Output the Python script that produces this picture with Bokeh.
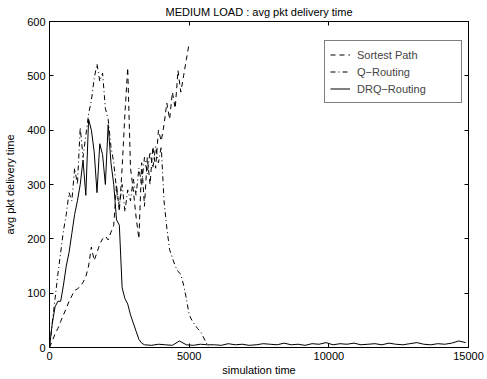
from bokeh.plotting import figure
from bokeh.models import LinearAxis, Legend, LegendItem, Range1d, FixedTicker
from bokeh.embed import file_html
from bokeh.resources import INLINE

# ---- data ----
sp_t = list(range(0, 5001, 100))
sp_v = [0, 12, 25, 35, 48, 60, 72, 85, 95, 105,
        108, 112, 120, 130, 150, 185, 160, 175, 190, 200,
        205, 198, 212, 225, 300, 250, 330, 430, 515, 330,
        290, 240, 200, 340, 260, 350, 300, 370, 330, 400,
        380, 410, 450, 420, 470, 440, 510, 470, 500, 530,
        560]

q_t = list(range(0, 5701, 100))
q_v = [0, 45, 90, 135, 175, 215, 245, 285, 270, 330,
       300, 405, 350, 390, 430, 455, 495, 522, 490, 505,
       440, 420, 370, 340, 290, 260, 300, 250, 290, 270,
       310, 280, 330, 300, 350, 320, 360, 330, 370, 340,
       370, 270, 220, 180, 165, 150, 140, 135, 115, 90,
       60, 50, 42, 35, 30, 20, 10, 0]

drq_t_head = list(range(0, 3401, 100))
drq_v_head = [0, 45, 75, 85, 85, 115, 150, 175, 210, 245,
              270, 300, 345, 280, 420, 400, 360, 285, 375, 355,
              300, 410, 340, 300, 235, 225, 110, 90, 80, 60,
              45, 30, 15, 8, 5]
drq_t_tail = list(range(3650, 15001, 250))
drq_v_tail = [4, 6, 5, 4, 12, 5, 4, 6, 5, 5,
              4, 7, 5, 6, 4, 5, 7, 6, 5, 8,
              5, 6, 4, 7, 6, 9, 5, 7, 6, 8,
              5, 6, 7, 5, 8, 6, 5, 7, 9, 6,
              5, 7, 6, 8, 12, 9, 7]
drq_t = drq_t_head + drq_t_tail
drq_v = drq_v_head + drq_v_tail

x_ticks = [0, 5000, 10000, 15000]
y_ticks = [0, 100, 200, 300, 400, 500, 600]

FONT = "Liberation Sans"

p = figure(width=487, height=379, output_backend="svg", toolbar_location=None,
           x_range=Range1d(0, 15000), y_range=Range1d(0, 600),
           min_border_left=49, min_border_right=19, min_border_top=21,
           min_border_bottom=32, background_fill_color="white",
           border_fill_color="white")

p.title.text = "MEDIUM LOAD : avg pkt delivery time"
p.title.align = "center"
p.title.text_font = FONT
p.title.text_font_size = "11px"
p.title.text_font_style = "normal"
p.title.text_color = "black"
p.title.standoff = 7
p.title.offset = 0

p.xgrid.visible = False
p.ygrid.visible = False
p.outline_line_color = "black"
p.outline_line_width = 1

for ax, ticks, label in ((p.xaxis[0], x_ticks, "simulation time"),
                         (p.yaxis[0], y_ticks, "avg pkt delivery time")):
    ax.ticker = FixedTicker(ticks=ticks)
    ax.axis_label = label
    ax.axis_label_text_font = FONT
    ax.axis_label_text_font_size = "11px"
    ax.axis_label_text_font_style = "normal"
    ax.axis_label_text_color = "black"
    ax.major_label_text_font = FONT
    ax.major_label_text_font_size = "11px"
    ax.major_label_text_color = "black"
    ax.major_tick_in = 4
    ax.major_tick_out = 0
    ax.minor_tick_line_color = None
    ax.axis_line_color = "black"
    ax.major_tick_line_color = "black"
p.xaxis[0].major_label_standoff = 4
p.xaxis[0].axis_label_standoff = 1
p.yaxis[0].major_label_standoff = 4
p.yaxis[0].axis_label_standoff = 8

# box ticks on the top and right edges: label-free (minor-only) axes
for side, ticks in (("above", x_ticks), ("right", y_ticks)):
    a = LinearAxis(ticker=FixedTicker(ticks=[], minor_ticks=ticks),
                   minor_tick_in=4, minor_tick_out=0, major_tick_out=0,
                   major_label_standoff=0,
                   minor_tick_line_color="black", major_tick_line_color=None,
                   axis_line_color="black")
    p.add_layout(a, side)

r_sp = p.line(sp_t, sp_v, line_color="black", line_width=1, line_dash="5 4")
r_q = p.line(q_t, q_v, line_color="black", line_width=1, line_dash="5 3 1 3")
r_drq = p.line(drq_t, drq_v, line_color="black", line_width=1)

legend = Legend(items=[LegendItem(label="Sortest Path", renderers=[r_sp]),
                       LegendItem(label="Q\u2212Routing", renderers=[r_q]),
                       LegendItem(label="DRQ\u2212Routing", renderers=[r_drq])],
                location=(275, 244), padding=5, spacing=0, margin=0,
                label_height=17, glyph_height=17, glyph_width=20,
                label_standoff=7, label_width=99,
                label_text_font=FONT, label_text_font_size="11px",
                border_line_color="black", border_line_width=1,
                background_fill_color="white", background_fill_alpha=1)
p.add_layout(legend)

open("out.html", "w").write(file_html(p, INLINE))
